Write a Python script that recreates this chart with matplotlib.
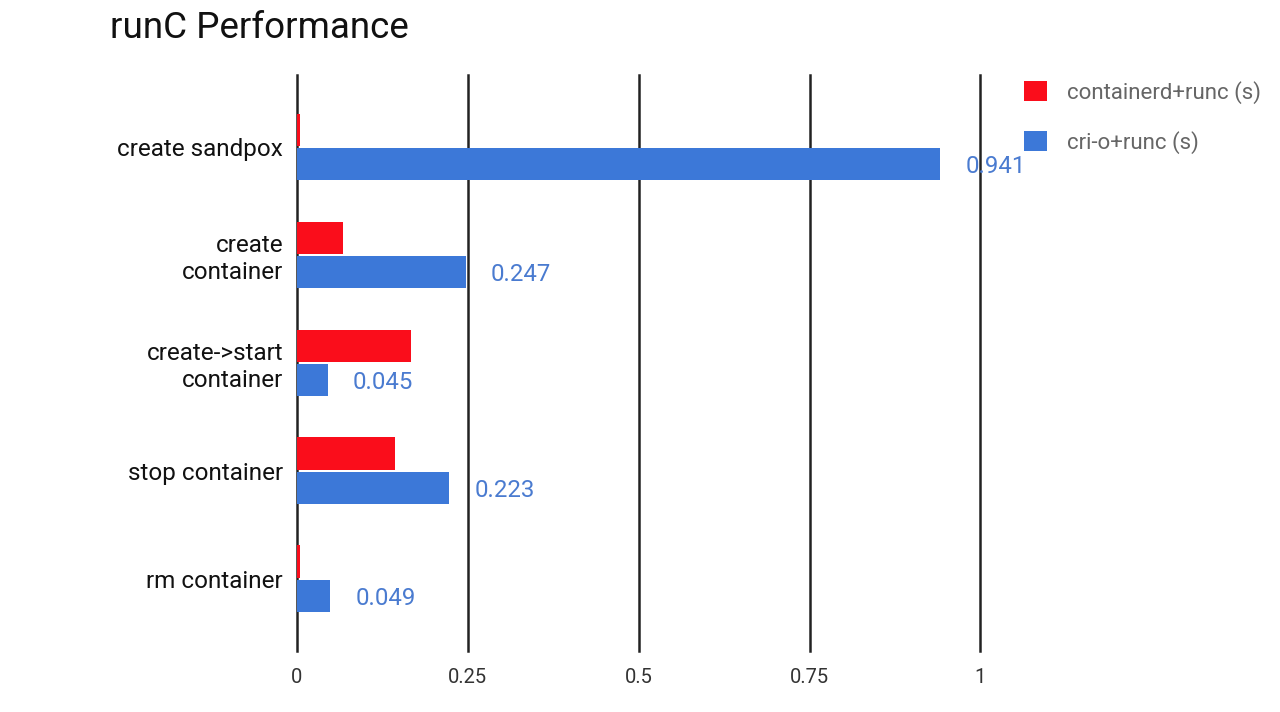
import matplotlib.pyplot as plt
import numpy as np

plt.rcParams["font.family"] = ["Roboto", "DejaVu Sans"]

categories = [
    "create sandpox",
    "create\ncontainer",
    "create->start\ncontainer",
    "stop container",
    "rm container",
]
containerd_runc = [0.005, 0.067, 0.167, 0.143, 0.005]
crio_runc = [0.941, 0.247, 0.045, 0.223, 0.049]
x_ticks = [0, 0.25, 0.5, 0.75, 1]
x_tick_labels = ["0", "0.25", "0.5", "0.75", "1"]

RED = "#fa0d1b"
BLUE = "#3c78d8"

fig = plt.figure(figsize=(12.8, 7.12), dpi=100)
ax = fig.add_axes([0.232, 0.0857, 0.534, 0.809])

y = np.arange(len(categories))
h = 0.3
ax.barh(y - h / 2 - 0.01, containerd_runc, height=h, color=RED,
        label="containerd+runc (s)", zorder=3)
ax.barh(y + h / 2 + 0.01, crio_runc, height=h, color=BLUE,
        label="cri-o+runc (s)", zorder=3)

# value labels for the cri-o series only
for yi, v in zip(y, crio_runc):
    ax.annotate(f"{v:.3f}", xy=(v, yi + h / 2 + 0.03), xytext=(25, 0),
                textcoords="offset pixels", va="center", ha="left",
                fontsize=17.3, color="#4a7bd0", zorder=4)

ax.set_xlim(0, 1)
ax.set_ylim(4.667, -0.667)
ax.set_xticks(x_ticks)
ax.set_xticklabels(x_tick_labels, fontsize=14.5, color="#333333")
ax.set_yticks(y)
ax.set_yticklabels(categories, fontsize=17.5, color="#111111",
                   ha="right", linespacing=1.2)
ax.tick_params(axis="both", length=0)
ax.tick_params(axis="x", pad=12)
ax.tick_params(axis="y", pad=10)
ax.xaxis.grid(True, color="#222222", linewidth=1.8, zorder=0)
for gl in ax.xaxis.get_gridlines():
    gl.set_clip_on(False)
ax.set_axisbelow(True)
for s in ax.spines.values():
    s.set_visible(False)

fig.text(0.086, 0.96, "runC Performance", fontsize=26.5, color="#111111",
         va="center", ha="left")

leg = fig.legend(loc="upper left", bbox_to_anchor=(0.784, 0.915), frameon=False,
                 fontsize=16, handlelength=1.05, handleheight=1.05,
                 labelspacing=1.22, handletextpad=0.9)
for t in leg.get_texts():
    t.set_color("#666666")

fig.savefig("out.png", dpi=100)
